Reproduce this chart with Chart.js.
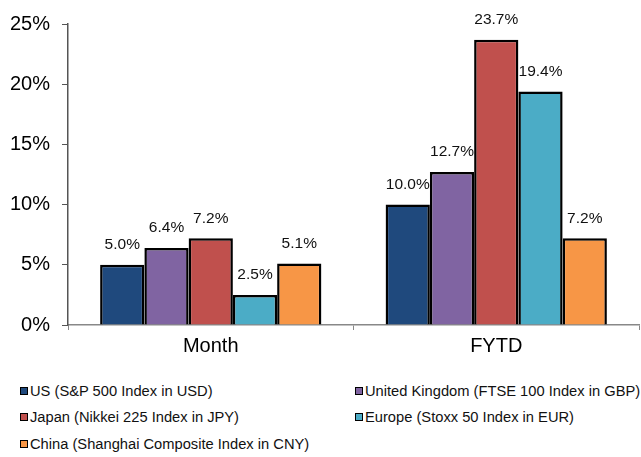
<!DOCTYPE html>
<html>
<head>
<meta charset="utf-8">
<script src="https://cdn.jsdelivr.net/npm/chart.js@4.4.0/dist/chart.umd.min.js"></script>
<style>
  body { margin: 0; background: #fff; font-family: "Liberation Sans", Arial, sans-serif; }
  #wrap { width: 641px; height: 370px; position: relative; }
  #legend { position: absolute; left: 0; top: 0; width: 641px; font-size: 14.7px; color: #111; }
  .item { position: absolute; white-space: nowrap; display: flex; align-items: center; line-height: 18px; }
  .box { width: 6px; height: 6px; border: 1.5px solid #000; margin-right: 2px; }
</style>
</head>
<body>
<div id="wrap"><canvas id="c" width="641" height="370"></canvas></div>
<div id="legend"></div>
<script>
// categories and series
const categories = ['Month', 'FYTD'];
const seriesNames = [
  'US (S&P 500 Index in USD)',
  'United Kingdom (FTSE 100 Index in GBP)',
  'Japan (Nikkei 225 Index in JPY)',
  'Europe (Stoxx 50 Index in EUR)',
  'China (Shanghai Composite Index in CNY)'
];
const usValues = [5.0, 10.0];
const ukValues = [6.4, 12.7];
const japanValues = [7.2, 23.7];
const europeValues = [2.5, 19.4];
const chinaValues = [5.1, 7.2];
const yTicks = [0, 5, 10, 15, 20, 25];

const colors = ['#1F497D', '#8064A2', '#C0504D', '#4BACC6', '#F79646'];
const allValues = [usValues, ukValues, japanValues, europeValues, chinaValues];

// 막대 위 값 표시 (datalabels 플러그인 대신)
const valueLabels = {
  id: 'valueLabels',
  afterDatasetsDraw(chart) {
    const ctx = chart.ctx;
    ctx.save();
    ctx.font = '15.5px "Liberation Sans", Arial, sans-serif';
    ctx.fillStyle = '#111';
    ctx.textAlign = 'center';
    ctx.textBaseline = 'middle';
    chart.data.datasets.forEach((ds, i) => {
      chart.getDatasetMeta(i).data.forEach((bar, j) => {
        ctx.fillText(ds.data[j].toFixed(1) + '%', bar.x, bar.y - 20);
      });
    });
    ctx.restore();
  }
};

new Chart(document.getElementById('c'), {
  type: 'bar',
  data: {
    labels: categories,
    datasets: seriesNames.map((name, i) => ({
      label: name,
      data: allValues[i],
      backgroundColor: colors[i],
      borderColor: '#000',
      borderWidth: 2.5,
      categoryPercentage: 0.775,
      barPercentage: 1.0
    }))
  },
  options: {
    responsive: false,
    animation: false,
    layout: { padding: { top: 20, right: 2 } },
    plugins: {
      legend: { display: false },
      tooltip: { enabled: false }
    },
    scales: {
      x: {
        grid: { drawOnChartArea: false, drawTicks: true, tickLength: 5, color: '#888' },
        border: { color: '#888', width: 1.5 },
        ticks: { color: '#000', font: { size: 20, family: '"Liberation Sans", Arial' }, padding: 4 },
        afterFit: (s) => { s.height = 45; }
      },
      y: {
        min: 0,
        max: 25,
        afterBuildTicks: (s) => { s.ticks = yTicks.map(v => ({ value: v })); },
        grid: { drawOnChartArea: false, drawTicks: true, tickLength: 6, color: '#555' },
        border: { color: '#555', width: 1.5 },
        ticks: {
          color: '#000',
          padding: 12,
          font: { size: 20, family: '"Liberation Sans", Arial' },
          callback: (v) => v + '%'
        },
        afterFit: (s) => { s.width = 68; }
      }
    }
  },
  plugins: [valueLabels]
});

// 범례 (2열)
const legend = document.getElementById('legend');
const pos = [[20, 382], [355, 382], [20, 408], [355, 408], [20, 435]];
seriesNames.forEach((name, i) => {
  const el = document.createElement('div');
  el.className = 'item';
  el.style.left = pos[i][0] + 'px';
  el.style.top = pos[i][1] + 'px';
  el.innerHTML = '<span class="box" style="background:' + colors[i] + '"></span>' + name;
  legend.appendChild(el);
});
</script>
</body>
</html>
